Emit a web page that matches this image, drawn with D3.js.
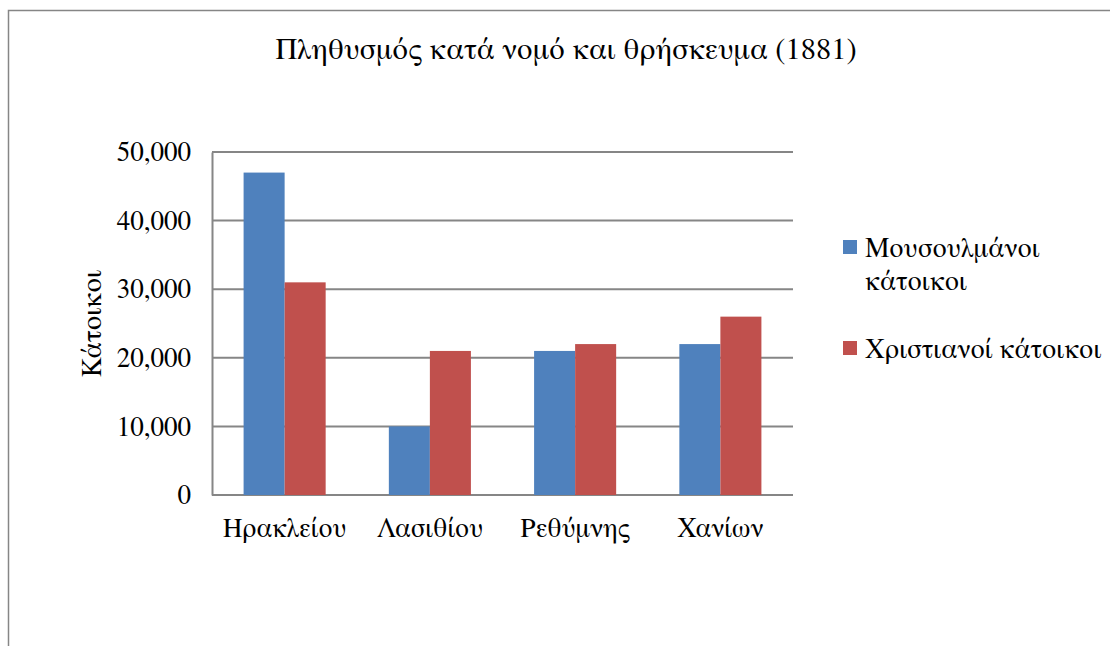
<!DOCTYPE html>
<head>
  <meta charset="utf-8">
  <script src="https://d3js.org/d3.v7.min.js"></script>
  <style>
    body { margin: 0; background: #ffffff; }
    text { font-family: FreeSerif, "Liberation Serif", serif; fill: #000000; }
  </style>
</head>
<body>
<script>
  // data
  var nomoi = ["Ηρακλείου", "Λασιθίου", "Ρεθύμνης", "Χανίων"];
  var seires = ["Μουσουλμάνοι κάτοικοι", "Χριστιανοί κάτοικοι"];
  var mousoulmanoi = [47000, 10000, 21000, 22000];
  var xristianoi = [31000, 21000, 22000, 26000];
  var yTicks = [0, 10000, 20000, 30000, 40000, 50000];
  var xromata = ["#4F81BD", "#C0504D"];

  var w = 1110, h = 646;
  var plot = { left: 212, right: 793, top: 152, bottom: 495 };
  var serif = "FreeSerif, 'Liberation Serif', serif";

  var svg = d3.select("body").append("svg")
    .attr("width", w)
    .attr("height", h);

  // outer frame of the chart area
  svg.append("rect")
    .attr("x", 8.5).attr("y", 10.5)
    .attr("width", 1120).attr("height", 700)
    .attr("fill", "none")
    .attr("stroke", "#868686")
    .attr("stroke-width", 1.5);

  svg.append("text")
    .attr("x", 566).attr("y", 59)
    .attr("text-anchor", "middle")
    .style("font-size", "30.5px")
    .text("Πληθυσμός κατά νομό και θρήσκευμα (1881)");

  var x = d3.scaleBand().domain(nomoi).range([plot.left, plot.right]);
  var xs = d3.scaleBand().domain(seires).range([0, x.bandwidth()])
    .paddingInner(0).paddingOuter(0.77);
  var y = d3.scaleLinear().domain([0, 50000]).range([plot.bottom, plot.top]);

  // gridlines
  svg.append("g").selectAll("line")
    .data(yTicks)
    .enter().append("line")
    .attr("x1", plot.left).attr("x2", plot.right)
    .attr("y1", function(d) { return y(d); })
    .attr("y2", function(d) { return y(d); })
    .attr("stroke", "#868686")
    .attr("stroke-width", 2);

  // bars
  var pinakas = nomoi.map(function(n, i) {
    return { nomos: n, values: [mousoulmanoi[i], xristianoi[i]] };
  });

  var groups = svg.append("g").selectAll("g")
    .data(pinakas)
    .enter().append("g")
    .attr("transform", function(d) { return "translate(" + x(d.nomos) + ",0)"; });

  groups.selectAll("rect")
    .data(function(d) { return d.values.map(function(v, k) { return { s: seires[k], v: v, k: k }; }); })
    .enter().append("rect")
    .attr("x", function(d) { return xs(d.s); })
    .attr("width", xs.bandwidth())
    .attr("y", function(d) { return y(d.v); })
    .attr("height", function(d) { return plot.bottom - y(d.v); })
    .attr("fill", function(d) { return xromata[d.k]; });

  // y axis
  var yAxis = svg.append("g")
    .attr("transform", "translate(" + plot.left + ",0)")
    .call(d3.axisLeft(y).tickValues(yTicks).tickFormat(d3.format(",")).tickSize(0).tickPadding(21));
  yAxis.select(".domain").attr("stroke", "#868686").attr("stroke-width", 2);
  yAxis.selectAll("text")
    .style("font-size", "27px")
    .style("font-family", serif)
    .attr("fill", "#000");

  // x labels
  var xAxis = svg.append("g")
    .attr("transform", "translate(0," + plot.bottom + ")")
    .call(d3.axisBottom(x).tickSize(0).tickPadding(0));
  xAxis.select(".domain").remove();
  xAxis.selectAll("text")
    .attr("dy", null)
    .attr("y", 42)
    .style("font-size", "27px")
    .style("font-family", serif)
    .attr("fill", "#000");

  // y axis title
  svg.append("text")
    .attr("transform", "translate(101," + ((plot.top + plot.bottom) / 2) + ") rotate(-90)")
    .attr("text-anchor", "middle")
    .style("font-size", "28px")
    .text("Κάτοικοι");

  // legend
  var legendY = [257, 358];
  seires.forEach(function(s, k) {
    svg.append("rect")
      .attr("x", 843).attr("y", legendY[k] - 17)
      .attr("width", 14).attr("height", 14)
      .attr("fill", xromata[k]);
    var t = svg.append("text")
      .attr("x", 865).attr("y", legendY[k])
      .style("font-size", "27.5px");
    // simple word wrap
    var words = s.split(" "), line = [];
    var tspan = t.append("tspan").attr("x", 865).attr("dy", 0);
    words.forEach(function(word) {
      line.push(word);
      tspan.text(line.join(" "));
      if (tspan.node().getComputedTextLength() > 242 && line.length > 1) {
        line.pop();
        tspan.text(line.join(" "));
        line = [word];
        tspan = t.append("tspan").attr("x", 865).attr("dy", 33).text(word);
      }
    });
  });
</script>
</body>
